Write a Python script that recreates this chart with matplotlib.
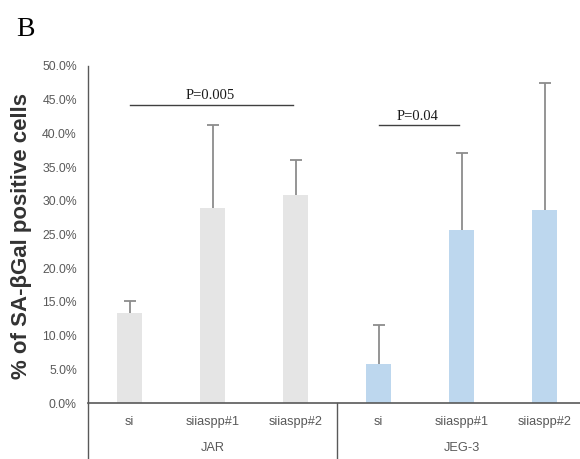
import numpy as np
import matplotlib
matplotlib.use('Agg')
import matplotlib.pyplot as plt

# data (fractions)
groups = ['JAR', 'JEG-3']
categories = ['si', 'siiaspp#1', 'siiaspp#2', 'si', 'siiaspp#1', 'siiaspp#2']
values = [0.134, 0.290, 0.308, 0.058, 0.256, 0.286]
errors = [0.017, 0.122, 0.052, 0.058, 0.115, 0.189]
bar_colors = ['#E5E5E5'] * 3 + ['#BDD7EE'] * 3
yticks = [0.0, 0.05, 0.10, 0.15, 0.20, 0.25, 0.30, 0.35, 0.40, 0.45, 0.50]
pvals = [('P=0.005', 0.0, 2.0, 0.442), ('P=0.04', 3.0, 4.0, 0.412)]

txt = '#595959'
fig = plt.figure(figsize=(5.8, 4.59), dpi=100)
ax = fig.add_axes([88 / 580, 1 - 403 / 459, 498 / 580, 337 / 459])

x = np.arange(len(categories))
ax.bar(x, values, width=0.31, color=bar_colors, zorder=2)
# upper error bars only
tops = np.array(values) + np.array(errors)
ax.vlines(x, values, tops, color='#8C8C8C', lw=1.3, zorder=3)
ax.plot(x, tops, ls='none', marker='_', ms=8, mew=1.3, color='#8C8C8C', zorder=3)

ax.set_xlim(-0.5, 5.5)
ax.set_ylim(0, 0.5)
ax.set_yticks(yticks)
ax.set_yticklabels(['%.1f%%' % (t * 100) for t in yticks],
                   fontsize=8.8, color=txt, family='Liberation Sans')
ax.tick_params(axis='y', length=0, pad=8)
ax.set_xticks([])

for s in ['top', 'right']:
    ax.spines[s].set_visible(False)
ax.spines['left'].set_color('#595959')
ax.spines['bottom'].set_color('#595959')
ax.spines['left'].set_linewidth(1.0)
ax.spines['bottom'].set_linewidth(1.2)

# category labels and group separators below the axis
for i, c in enumerate(categories):
    ax.text(i, -0.028, c, ha='center', va='center', fontsize=9.2, color=txt,
            family='Liberation Sans', clip_on=False)
for gi, g in enumerate(groups):
    ax.text(gi * 3 + 1, -0.067, g, ha='center', va='center', fontsize=9.2,
            color=txt, family='Liberation Sans', clip_on=False)
for xs in [-0.5, 2.5, 5.5]:
    ax.plot([xs, xs], [0, -0.17], color='#595959', lw=1.0, clip_on=False)

# significance bars
for label, x0, x1, y in pvals:
    ax.plot([x0, x1 - 0.03], [y, y], color='#404040', lw=1.0)
    ax.text((x0 + x1) / 2 - 0.03, y + 0.004, label, ha='center', va='bottom',
            fontsize=10.5, family='Liberation Serif', color='#1a1a1a')

fig.text(22 / 580, 1 - 236 / 459, '% of SA-\u03b2Gal positive cells', fontsize=16,
         fontweight='bold', family='Liberation Sans', color='#333333',
         rotation=90, ha='center', va='center')

fig.text(16 / 580, 1 - 36 / 459, 'B', fontsize=20, family='Liberation Serif',
         ha='left', va='baseline')

fig.savefig('out.png', dpi=100)
